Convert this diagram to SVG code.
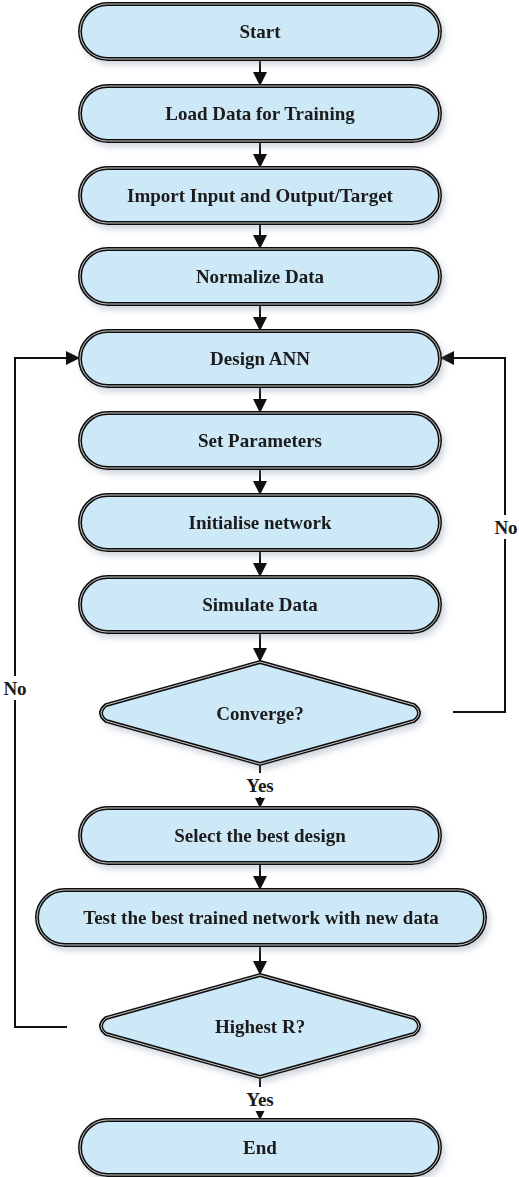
<svg xmlns="http://www.w3.org/2000/svg" width="519" height="1177" viewBox="0 0 519 1177">
  <style>
    .box { fill: #cde9f8; }
    .edge { stroke: #111; stroke-width: 4; fill: none; }
    .inner { stroke: #c8c8c8; stroke-width: 1; fill: none; }
    .lbl { font-family: "Liberation Serif", "Times New Roman", serif; font-weight: bold; font-size: 19px; fill: #1a1a1a; text-anchor: middle; dominant-baseline: central; }
    .wire { stroke: #111; stroke-width: 2; fill: none; }
  </style>
  <defs>
    <filter id="shadow" x="-10%" y="-20%" width="125%" height="160%">
      <feDropShadow dx="3" dy="4" stdDeviation="3" flood-color="#7a8aa0" flood-opacity="0.35"/>
    </filter>
    <marker id="arrow" markerWidth="14" markerHeight="14" viewBox="0 0 12 12" refX="12" refY="6" orient="auto" markerUnits="userSpaceOnUse">
      <path d="M0,0 L12,6 L0,12 Z" fill="#111"/>
    </marker>
    <marker id="arrowSmall" markerWidth="10" markerHeight="10" viewBox="0 0 12 12" refX="12" refY="6" orient="auto" markerUnits="userSpaceOnUse">
      <path d="M0,0 L12,6 L0,12 Z" fill="#111"/>
    </marker>
  </defs>

  <!-- connectors -->
  <g id="connectors">
    <line class="wire" x1="260" y1="59" x2="260" y2="86" marker-end="url(#arrow)"/>
    <line class="wire" x1="260" y1="141" x2="260" y2="168" marker-end="url(#arrow)"/>
    <line class="wire" x1="260" y1="223" x2="260" y2="249" marker-end="url(#arrow)"/>
    <line class="wire" x1="260" y1="304" x2="260" y2="331" marker-end="url(#arrow)"/>
    <line class="wire" x1="260" y1="386" x2="260" y2="413" marker-end="url(#arrow)"/>
    <line class="wire" x1="260" y1="468" x2="260" y2="495" marker-end="url(#arrow)"/>
    <line class="wire" x1="260" y1="550" x2="260" y2="577" marker-end="url(#arrow)"/>
    <line class="wire" x1="260" y1="632" x2="260" y2="662" marker-end="url(#arrow)"/>
    <line class="wire" x1="260" y1="764" x2="260" y2="808" marker-end="url(#arrowSmall)"/>
    <line class="wire" x1="260" y1="863" x2="260" y2="890" marker-end="url(#arrow)"/>
    <line class="wire" x1="260" y1="945" x2="260" y2="975" marker-end="url(#arrow)"/>
    <line class="wire" x1="260" y1="1077" x2="260" y2="1120" marker-end="url(#arrowSmall)"/>
    <!-- No branch from Converge? back to Design ANN -->
    <polyline class="wire" points="453,712 505,712 505,358 440,358" marker-end="url(#arrow)"/>
    <!-- No branch from Highest R? back to Design ANN -->
    <polyline class="wire" points="67,1027 15,1027 15,358 80,358" marker-end="url(#arrow)"/>
    <!-- branch labels -->
    <rect x="491" y="515" width="28" height="24" fill="#fff"/>
    <text class="lbl" x="506" y="527">No</text>
    <rect x="1" y="676" width="28" height="24" fill="#fff"/>
    <text class="lbl" x="15" y="688">No</text>
    <rect x="242" y="773" width="36" height="24" fill="#fff"/>
    <text class="lbl" x="260" y="785">Yes</text>
    <rect x="242" y="1087" width="36" height="24" fill="#fff"/>
    <text class="lbl" x="260" y="1099">Yes</text>
  </g>

  <!-- nodes -->
  <g id="start" filter="url(#shadow)">
    <rect class="box" x="80" y="4" width="360" height="55" rx="27.5"/>
    <rect class="edge" x="80" y="4" width="360" height="55" rx="27.5"/>
    <rect class="inner" x="80" y="4" width="360" height="55" rx="27.5"/>
    <text class="lbl" x="260" y="31.5">Start</text>
  </g>
  <g id="load-data" filter="url(#shadow)">
    <rect class="box" x="80" y="86" width="360" height="55" rx="27.5"/>
    <rect class="edge" x="80" y="86" width="360" height="55" rx="27.5"/>
    <rect class="inner" x="80" y="86" width="360" height="55" rx="27.5"/>
    <text class="lbl" x="260" y="113.5">Load Data for Training</text>
  </g>
  <g id="import-io" filter="url(#shadow)">
    <rect class="box" x="80" y="168" width="360" height="55" rx="27.5"/>
    <rect class="edge" x="80" y="168" width="360" height="55" rx="27.5"/>
    <rect class="inner" x="80" y="168" width="360" height="55" rx="27.5"/>
    <text class="lbl" x="260" y="195.5">Import Input and Output/Target</text>
  </g>
  <g id="normalize" filter="url(#shadow)">
    <rect class="box" x="80" y="249" width="360" height="55" rx="27.5"/>
    <rect class="edge" x="80" y="249" width="360" height="55" rx="27.5"/>
    <rect class="inner" x="80" y="249" width="360" height="55" rx="27.5"/>
    <text class="lbl" x="260" y="276.5">Normalize Data</text>
  </g>
  <g id="design-ann" filter="url(#shadow)">
    <rect class="box" x="80" y="331" width="360" height="55" rx="27.5"/>
    <rect class="edge" x="80" y="331" width="360" height="55" rx="27.5"/>
    <rect class="inner" x="80" y="331" width="360" height="55" rx="27.5"/>
    <text class="lbl" x="260" y="358.5">Design ANN</text>
  </g>
  <g id="set-parameters" filter="url(#shadow)">
    <rect class="box" x="80" y="413" width="360" height="55" rx="27.5"/>
    <rect class="edge" x="80" y="413" width="360" height="55" rx="27.5"/>
    <rect class="inner" x="80" y="413" width="360" height="55" rx="27.5"/>
    <text class="lbl" x="260" y="440.5">Set Parameters</text>
  </g>
  <g id="initialise" filter="url(#shadow)">
    <rect class="box" x="80" y="495" width="360" height="55" rx="27.5"/>
    <rect class="edge" x="80" y="495" width="360" height="55" rx="27.5"/>
    <rect class="inner" x="80" y="495" width="360" height="55" rx="27.5"/>
    <text class="lbl" x="260" y="522.5">Initialise network</text>
  </g>
  <g id="simulate" filter="url(#shadow)">
    <rect class="box" x="80" y="577" width="360" height="55" rx="27.5"/>
    <rect class="edge" x="80" y="577" width="360" height="55" rx="27.5"/>
    <rect class="inner" x="80" y="577" width="360" height="55" rx="27.5"/>
    <text class="lbl" x="260" y="604.5">Simulate Data</text>
  </g>
  <g id="converge" filter="url(#shadow)">
    <path class="box" d="M260,662 L414,705 Q424,713 414,721 L260,764 L106,721 Q96,713 106,705 Z"/>
    <path class="edge" d="M260,662 L414,705 Q424,713 414,721 L260,764 L106,721 Q96,713 106,705 Z"/>
    <path class="inner" d="M260,662 L414,705 Q424,713 414,721 L260,764 L106,721 Q96,713 106,705 Z"/>
    <text class="lbl" x="260" y="713">Converge?</text>
  </g>
  <g id="select-best" filter="url(#shadow)">
    <rect class="box" x="80" y="808" width="360" height="55" rx="27.5"/>
    <rect class="edge" x="80" y="808" width="360" height="55" rx="27.5"/>
    <rect class="inner" x="80" y="808" width="360" height="55" rx="27.5"/>
    <text class="lbl" x="260" y="835.5">Select the best design</text>
  </g>
  <g id="test-best" filter="url(#shadow)">
    <rect class="box" x="37" y="890" width="448" height="55" rx="27.5"/>
    <rect class="edge" x="37" y="890" width="448" height="55" rx="27.5"/>
    <rect class="inner" x="37" y="890" width="448" height="55" rx="27.5"/>
    <text class="lbl" x="261" y="917.5">Test the best trained network with new data</text>
  </g>
  <g id="highest-r" filter="url(#shadow)">
    <path class="box" d="M260,975 L414,1018 Q424,1026 414,1034 L260,1077 L106,1034 Q96,1026 106,1018 Z"/>
    <path class="edge" d="M260,975 L414,1018 Q424,1026 414,1034 L260,1077 L106,1034 Q96,1026 106,1018 Z"/>
    <path class="inner" d="M260,975 L414,1018 Q424,1026 414,1034 L260,1077 L106,1034 Q96,1026 106,1018 Z"/>
    <text class="lbl" x="260" y="1026">Highest R?</text>
  </g>
  <g id="end" filter="url(#shadow)">
    <rect class="box" x="80" y="1120" width="360" height="55" rx="27.5"/>
    <rect class="edge" x="80" y="1120" width="360" height="55" rx="27.5"/>
    <rect class="inner" x="80" y="1120" width="360" height="55" rx="27.5"/>
    <text class="lbl" x="260" y="1147.5">End</text>
  </g>
</svg>
